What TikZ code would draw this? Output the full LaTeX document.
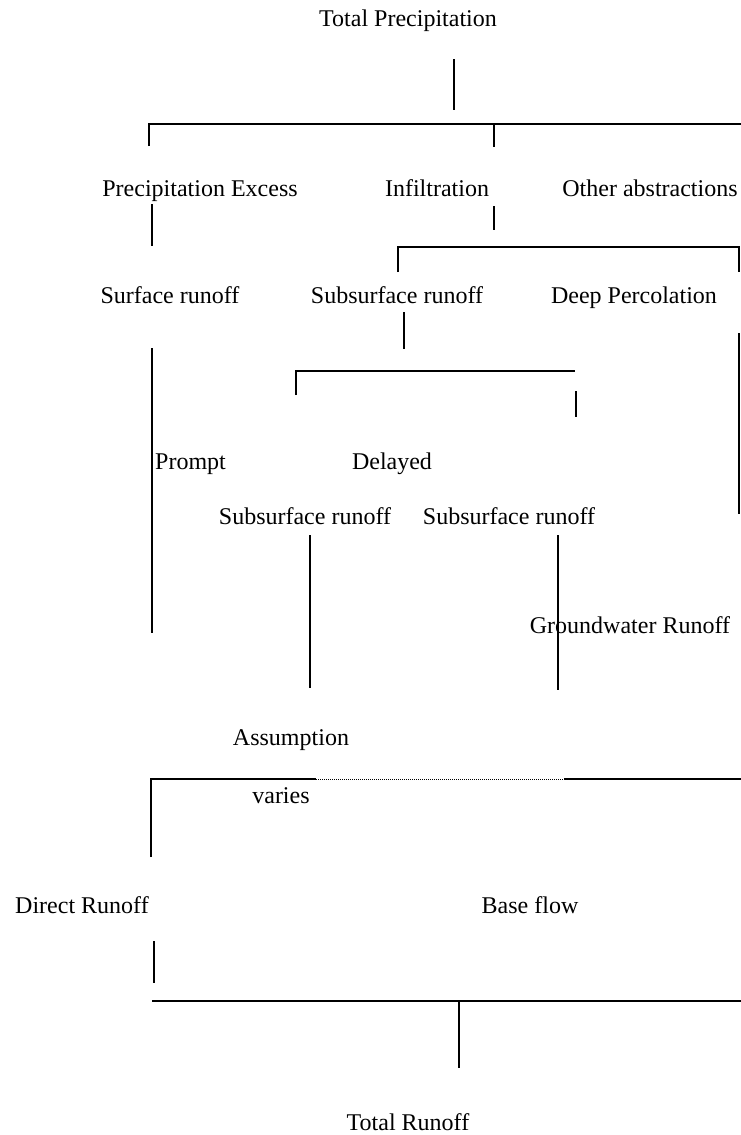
\documentclass[tikz,border=0pt]{standalone}
\usepackage{fontspec}
\setmainfont{Liberation Serif}
\usepackage{tikz}
\usetikzlibrary{positioning}

\tikzset{
  lbl/.style={anchor=base, inner sep=0pt, font=\fontsize{24}{28}\selectfont},
  ln/.style={line width=1.6pt},
  dotln/.style={line width=1pt, dash pattern=on 1pt off 1pt}
}

\begin{document}
\begin{tikzpicture}[x=1pt, y=-1pt]
  \useasboundingbox (0,0) rectangle (741,1135);

  % labels
  \node[lbl] (totprec) at (408,27) {Total Precipitation};
  \node[lbl] (precex) at (200,196) {Precipitation Excess};
  \node[lbl] (infil) at (437,196) {Infiltration};
  \node[lbl] (otherab) at (650,196) {Other abstractions};
  \node[lbl] (surfro) at (170,303) {Surface runoff};
  \node[lbl] (subro) at (397,303) {Subsurface runoff};
  \node[lbl] (deepperc) at (634,303) {Deep Percolation};
  \node[lbl, anchor=base west] (prompt) at (155,469) {Prompt};
  \node[lbl] (delayed) at (392,469) {Delayed};
  \node[lbl] (subroa) at (305,524) {Subsurface runoff};
  \node[lbl] (subrob) at (509,524) {Subsurface runoff};
  \node[lbl] (gwro) at (630,633) {Groundwater Runoff};
  \node[lbl] (assump) at (291,745) {Assumption};
  \node[lbl] (varies) at (281,803) {varies};
  \node[lbl] (directro) at (82,913) {Direct Runoff};
  \node[lbl] (baseflow) at (530,913) {Base flow};
  \node[lbl] (totro) at (408,1130) {Total Runoff};

  % precipitation split
  \draw[ln] (454,59) -- (454,110);
  \draw[ln] (149,146) -- (149,124) -- (741,124);
  \draw[ln] (494,124) -- (494,147);
  \draw[ln] (152,204) -- (152,246);
  \draw[ln] (494,206) -- (494,230);

  % infiltration split
  \draw[ln] (398,272) -- (398,247) -- (739,247) -- (739,272);
  \draw[ln] (404,312) -- (404,349);
  \draw[ln] (296,395) -- (296,371) -- (575,371);
  \draw[ln] (576,391) -- (576,417);
  \draw[ln] (739,333) -- (739,514);
  \draw[ln] (152,348) -- (152,633);
  \draw[ln] (310,535) -- (310,688);
  \draw[ln] (558,535) -- (558,690);

  % runoff collection
  \draw[ln] (151,857) -- (151,779) -- (316,779);
  \draw[dotln] (316,779) -- (564,779);
  \draw[ln] (564,779) -- (741,779);
  \draw[ln] (154,941) -- (154,983);
  \draw[ln] (152,1001) -- (741,1001);
  \draw[ln] (459,1001) -- (459,1068);
\end{tikzpicture}
\end{document}
